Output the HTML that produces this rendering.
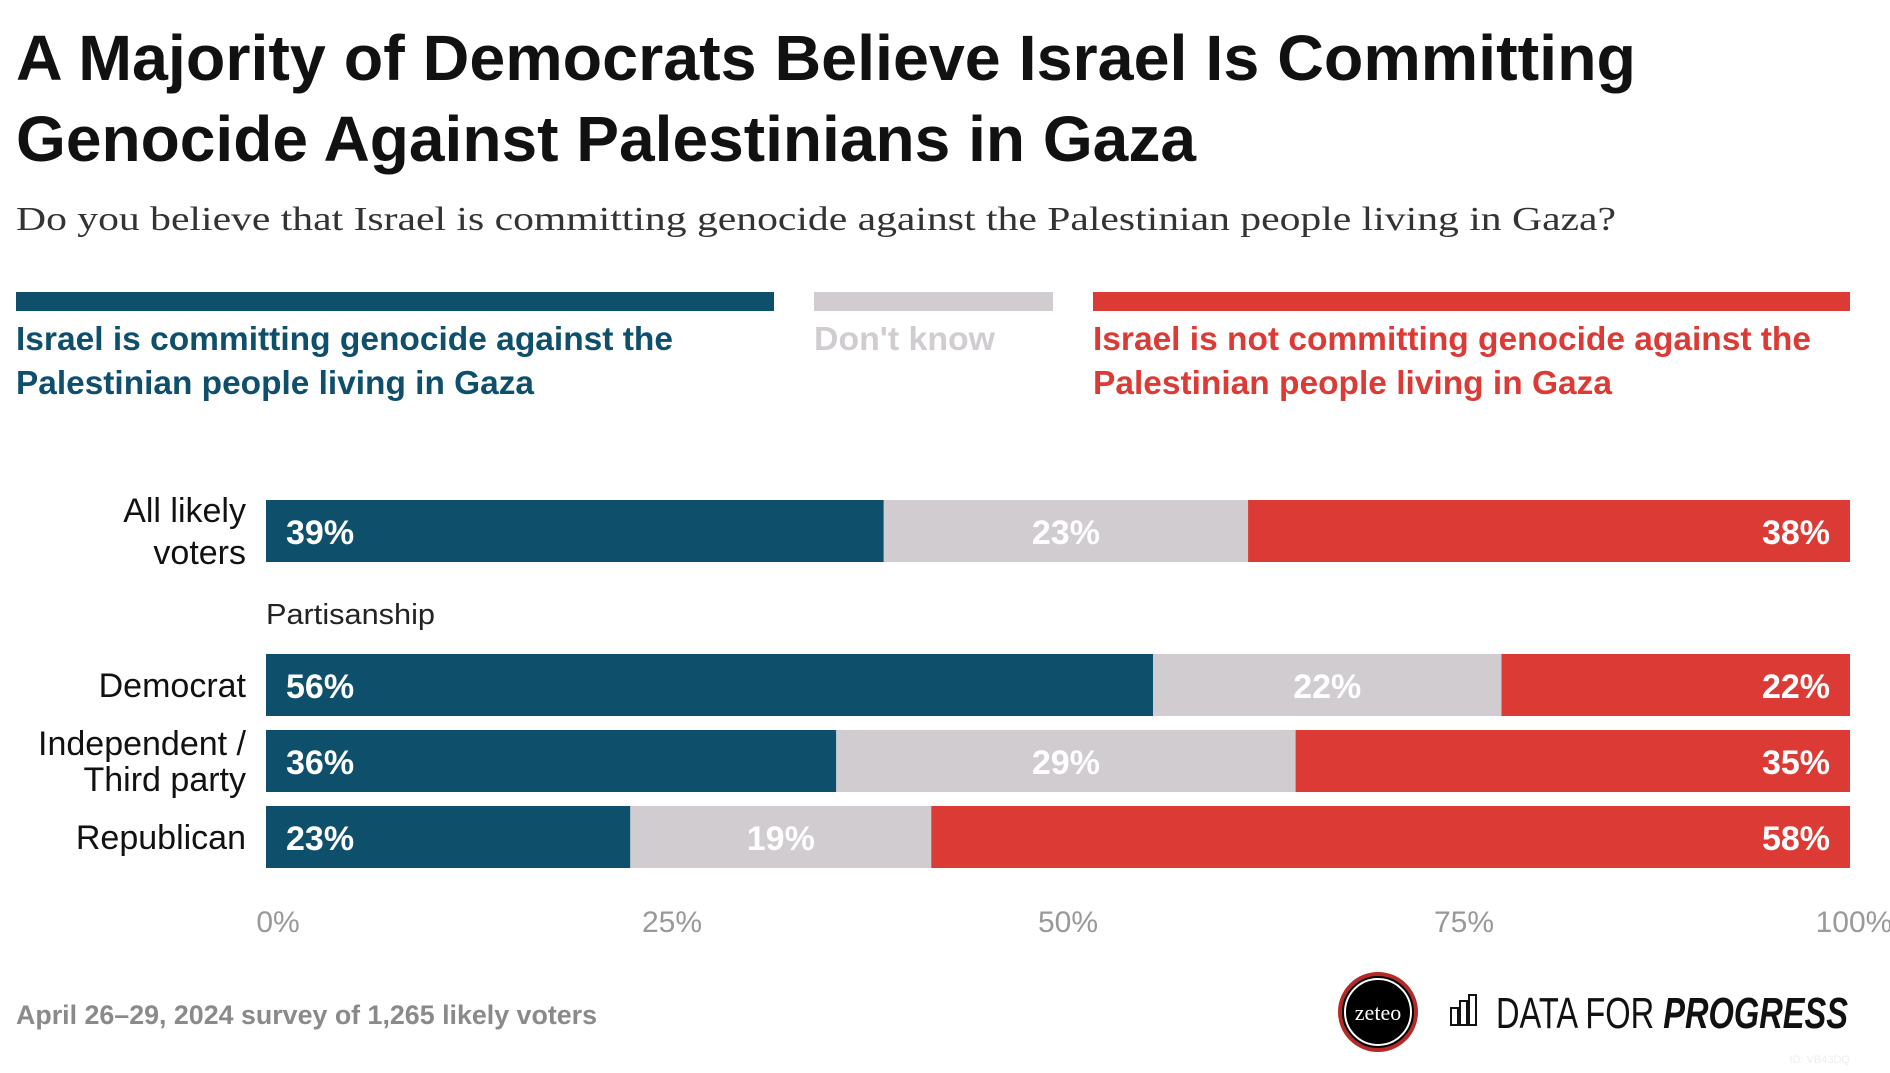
<!DOCTYPE html>
<html><head><meta charset="utf-8"><style>
body{margin:0;background:#fff;width:1890px;height:1068px;overflow:hidden;font-family:"Liberation Sans",sans-serif}
</style></head><body>
<svg id="chart" width="1890" height="1068" xmlns="http://www.w3.org/2000/svg" font-family="Liberation Sans, sans-serif">
<text x="16" y="80" font-size="64" font-weight="bold" fill="#111" textLength="1620" lengthAdjust="spacingAndGlyphs">A Majority of Democrats Believe Israel Is Committing</text>
<text x="16" y="161" font-size="64" font-weight="bold" fill="#111" textLength="1180" lengthAdjust="spacingAndGlyphs">Genocide Against Palestinians in Gaza</text>
<text x="16" y="230" font-size="34" font-family="Liberation Serif, serif" fill="#333" textLength="1600" lengthAdjust="spacingAndGlyphs">Do you believe that Israel is committing genocide against the Palestinian people living in Gaza?</text>
<g>
<rect x="16" y="292" width="758" height="19" fill="#0e4f6b"/>
<rect x="814" y="292" width="239" height="19" fill="#d0ccd0"/>
<rect x="1093" y="292" width="757" height="19" fill="#dc3a35"/>
<text font-size="33" font-weight="bold" fill="#0e4f6b"><tspan x="16" y="350" textLength="657" lengthAdjust="spacingAndGlyphs">Israel is committing genocide against the</tspan><tspan x="16" y="394" textLength="518" lengthAdjust="spacingAndGlyphs">Palestinian people living in Gaza</tspan></text>
<text x="814" y="350" font-size="33" font-weight="bold" fill="#d0ccd0" textLength="181" lengthAdjust="spacingAndGlyphs">Don't know</text>
<text font-size="33" font-weight="bold" fill="#dc3a35"><tspan x="1093" y="350" textLength="718" lengthAdjust="spacingAndGlyphs">Israel is not committing genocide against the</tspan><tspan x="1093" y="394" textLength="519" lengthAdjust="spacingAndGlyphs">Palestinian people living in Gaza</tspan></text>
</g>
<text x="266" y="624" font-size="29" fill="#222" textLength="169" lengthAdjust="spacingAndGlyphs">Partisanship</text>
<g id="bars"></g>
<g id="axis"></g>
<text x="16" y="1024" font-size="27" font-weight="bold" fill="#8a8a8a" textLength="581" lengthAdjust="spacingAndGlyphs">April 26–29, 2024 survey of 1,265 likely voters</text>
<g>
<circle cx="1378" cy="1012" r="38" fill="#000" stroke="#b52a26" stroke-width="4"/>
<circle cx="1378" cy="1012" r="33" fill="none" stroke="#fff" stroke-width="2"/>
<text x="1378" y="1020" font-size="22" font-family="Liberation Serif, serif" fill="#fff" text-anchor="middle">zeteo</text>
</g>
<g>
<rect x="1451" y="1008" width="7" height="17" fill="none" stroke="#111" stroke-width="2"/>
<rect x="1460" y="1001" width="7" height="24" fill="none" stroke="#111" stroke-width="2"/>
<rect x="1469" y="995" width="7" height="30" fill="none" stroke="#111" stroke-width="2"/>
<text x="1496" y="1028" font-size="44" fill="#111" textLength="352" lengthAdjust="spacingAndGlyphs">DATA FOR <tspan font-weight="bold" font-style="italic">PROGRESS</tspan></text>
</g>
<text x="1850" y="1063" font-size="11" fill="#eee" text-anchor="end">ID: VB43DQ</text>
</svg>
<script>
const categories = ["All likely voters","Democrat","Independent / Third party","Republican"];
const genocide = [39,56,36,23];
const dontKnow = [23,22,29,19];
const notGenocide = [38,22,35,58];
const ticks = [0,25,50,75,100];
const tickLabels = ["0%","25%","50%","75%","100%"];
const NS="http://www.w3.org/2000/svg";
const x0=266,x1=1850;
const xs=v=>x0+(x1-x0)*v/100;
const rowTop=[500,654,730,806], barH=62;
const labelLines=[["All likely","voters"],["Democrat"],["Independent /","Third party"],["Republican"]];
const bars=document.getElementById('bars');
function mk(tag,attrs,parent){const e=document.createElementNS(NS,tag);for(const k in attrs)e.setAttribute(k,attrs[k]);parent.appendChild(e);return e;}
categories.forEach((c,i)=>{
  const y=rowTop[i];
  const g=mk('g',{},bars);
  
  
  const segs=[[genocide[i],'#0e4f6b','start'],[dontKnow[i],'#d0ccd0','middle'],[notGenocide[i],'#dc3a35','end']];
  let acc=0;
  segs.forEach((s,j)=>{
    const a=xs(acc),b=xs(acc+s[0]);
    const r=mk('rect',{x:a,y:y,width:b-a,height:barH,fill:s[1]},g);
    
    
    let tx=j===0?a+20:(j===1?(a+b)/2:b-20);
    const t=mk('text',{x:tx,y:y+44,'font-size':34,'font-weight':'bold',fill:'#fff','text-anchor':s[2]},g);
    
    
    t.textContent=s[0]+'%';
    acc+=s[0];
  });
  const lines=labelLines[i];
  const lt=mk('text',{'font-size':34,fill:'#111','text-anchor':'end'},g);
  
  
  const cy=y+barH/2;
  lines.forEach((l,k)=>{
    const ts=mk('tspan',{x:246,y:cy+12+(k-(lines.length-1)/2)*(i===0?42:36)},lt);
    ts.textContent=l;
  });
});
const axis=document.getElementById('axis');
ticks.forEach((t,i)=>{
  const e=mk('text',{x:xs(t)+(i===0?12:(i===4?4:10)),y:932,'font-size':30,fill:'#999','text-anchor':'middle'},axis);
  
  
  e.textContent=tickLabels[i];
});
</script>
</body></html>
